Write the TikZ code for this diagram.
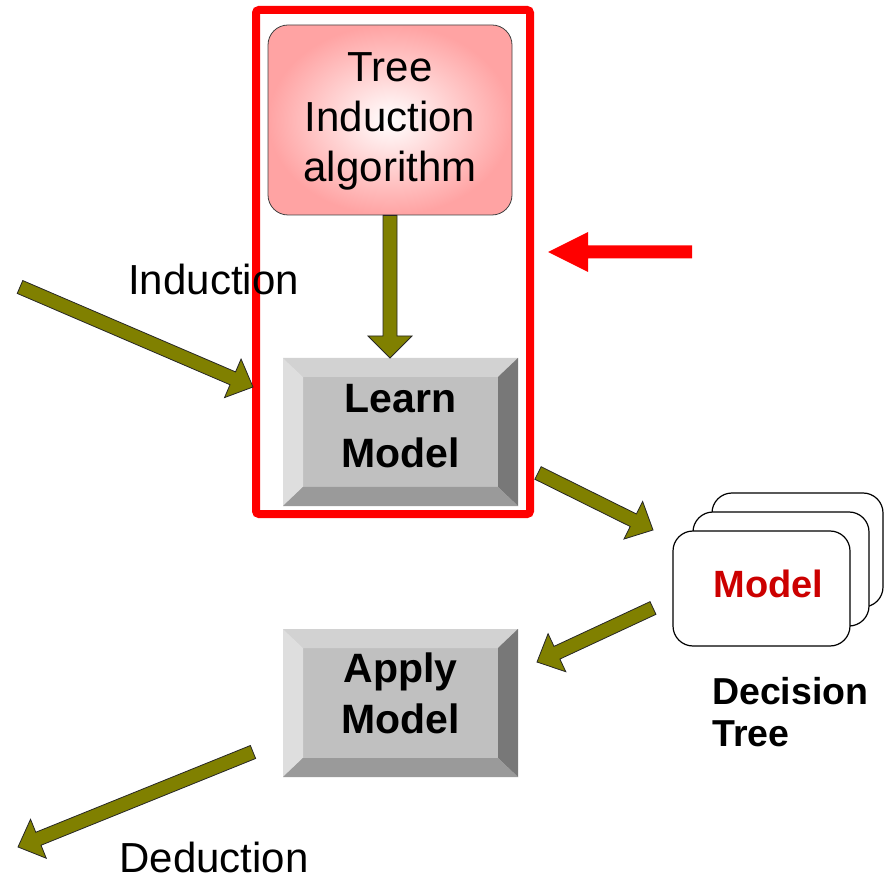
\documentclass[tikz,border=0pt]{standalone}
\usepackage{fontspec}
\setmainfont{Liberation Sans}
\usetikzlibrary{calc}
\definecolor{olv}{HTML}{808000}
\definecolor{face}{HTML}{C0C0C0}
\definecolor{bevT}{HTML}{D2D2D2}
\definecolor{bevL}{HTML}{DEDEDE}
\definecolor{bevR}{HTML}{787878}
\definecolor{bevB}{HTML}{9A9A9A}
\definecolor{pinkE}{HTML}{FFA3A3}
\definecolor{modelred}{HTML}{CC0000}
\newcommand\blockarrow[6]{% style, A, B, half shaft, half head, head length
  \path coordinate (bah) at ($(#3)!#6!(#2)$);
  \filldraw[#1] ($(#2)!#4!90:(#3)$) -- ($(bah)!#4!90:(#3)$) -- ($(bah)!#5!90:(#3)$) -- (#3)
    -- ($(bah)!#5!-90:(#3)$) -- ($(bah)!#4!-90:(#3)$) -- ($(#2)!#4!-90:(#3)$) -- cycle;
}
\newcommand\bevelbtn[4]{% name, center, text, text depth
  \node[btn, text depth=#4] (#1) at (#2) {#3};
  \fill[bevT] (#1.north west) -- (#1.north east) -- ($(#1.north east)+(-20,19)$) -- ($(#1.north west)+(20,19)$) -- cycle;
  \fill[bevL] (#1.north west) -- ($(#1.north west)+(20,19)$) -- ($(#1.south west)+(20,-19)$) -- (#1.south west) -- cycle;
  \fill[bevR] (#1.north east) -- ($(#1.north east)+(-20,19)$) -- ($(#1.south east)+(-20,-19)$) -- (#1.south east) -- cycle;
  \fill[bevB] (#1.south west) -- (#1.south east) -- ($(#1.south east)+(-20,-19)$) -- ($(#1.south west)+(20,-19)$) -- cycle;
}
\tikzset{
  olivearrow/.style={fill=olv, draw=black!85, line width=0.8pt, line join=miter},
  redarrow/.style={fill=red, draw=none},
  btn/.style={fill=face, minimum width=235pt, minimum height=148pt, inner sep=0pt, outer sep=0pt,
    align=center, font=\fontsize{41}{55}\selectfont\bfseries},
  card/.style={draw=black, line width=1.2pt, fill=white, rounded corners=20pt, inner sep=0pt, outer sep=0pt},
  plainlbl/.style={font=\fontsize{42}{50}\selectfont, inner sep=0pt},
}
\begin{document}
\begin{tikzpicture}[x=1pt,y=-1pt]
\useasboundingbox (0,0) rectangle (884,882);
% red frame
\node[draw=red, line width=8pt, rounded corners=3pt, minimum width=274pt, minimum height=504pt, inner sep=0pt] (frame) at (393,262) {};
% tree induction box
\node[draw=black!75, line width=0.8pt, rounded corners=20pt, inner color=white, outer color=pinkE,
      minimum width=244pt, minimum height=190pt, inner sep=0pt, align=center, text depth=5pt,
      font=\fontsize{42}{50}\selectfont] (tree) at (390,120) {Tree\\Induction\\algorithm};
% buttons
\bevelbtn{learn}{400.5,432}{Learn\\Model}{13pt}
\tikzset{btn/.append style={font=\fontsize{41}{51}\selectfont\bfseries}}
\bevelbtn{apply}{400.5,703}{Apply\\Model}{20pt}
% model cards
\node[card, minimum width=171pt, minimum height=114pt] (cardc) at (797.5,550) {};
\node[card, minimum width=176pt, minimum height=114pt] (cardb) at (781,569) {};
\node[card, minimum width=177pt, minimum height=115pt, text=modelred, text depth=9pt,
      font=\fontsize{38}{44}\selectfont\bfseries] (model) at (761.5,588.5) {\hspace*{14pt}Model};
% labels
\node[plainlbl, anchor=base] (induction) at (213.5,295) {Induction};
\node[plainlbl, anchor=base] (deduction) at (214,872) {Deduction};
\node[inner sep=0pt, anchor=north west, align=left, font=\fontsize{37.5}{42}\selectfont\bfseries] (dtree) at (712,677) {Decision\\Tree};
% arrow end points
\coordinate (indtail) at (20,287);
\coordinate (indtip) at (253,387);
\coordinate (lmtail) at (538,473);
\coordinate (lmtip) at (653,530);
\coordinate (mtail) at (653,608);
\coordinate (mtip) at (537,662);
\coordinate (dtail) at (253,752);
\coordinate (dtip) at (18,847);
\coordinate (rtail) at (692,252);
\coordinate (rtip) at (548,252);
\coordinate (downtip) at (tree.south |- learn.north);
% arrows
\blockarrow{olivearrow}{indtail}{indtip}{7pt}{21pt}{22pt}
\blockarrow{olivearrow}{tree.south}{downtip}{7pt}{22pt}{22pt}
\blockarrow{olivearrow}{lmtail}{lmtip}{7pt}{21pt}{22pt}
\blockarrow{olivearrow}{mtail}{mtip}{7pt}{21pt}{22pt}
\blockarrow{olivearrow}{dtail}{dtip}{7pt}{21pt}{22pt}
\blockarrow{redarrow}{rtail}{rtip}{6.5pt}{20pt}{40pt}
\end{tikzpicture}
\end{document}
